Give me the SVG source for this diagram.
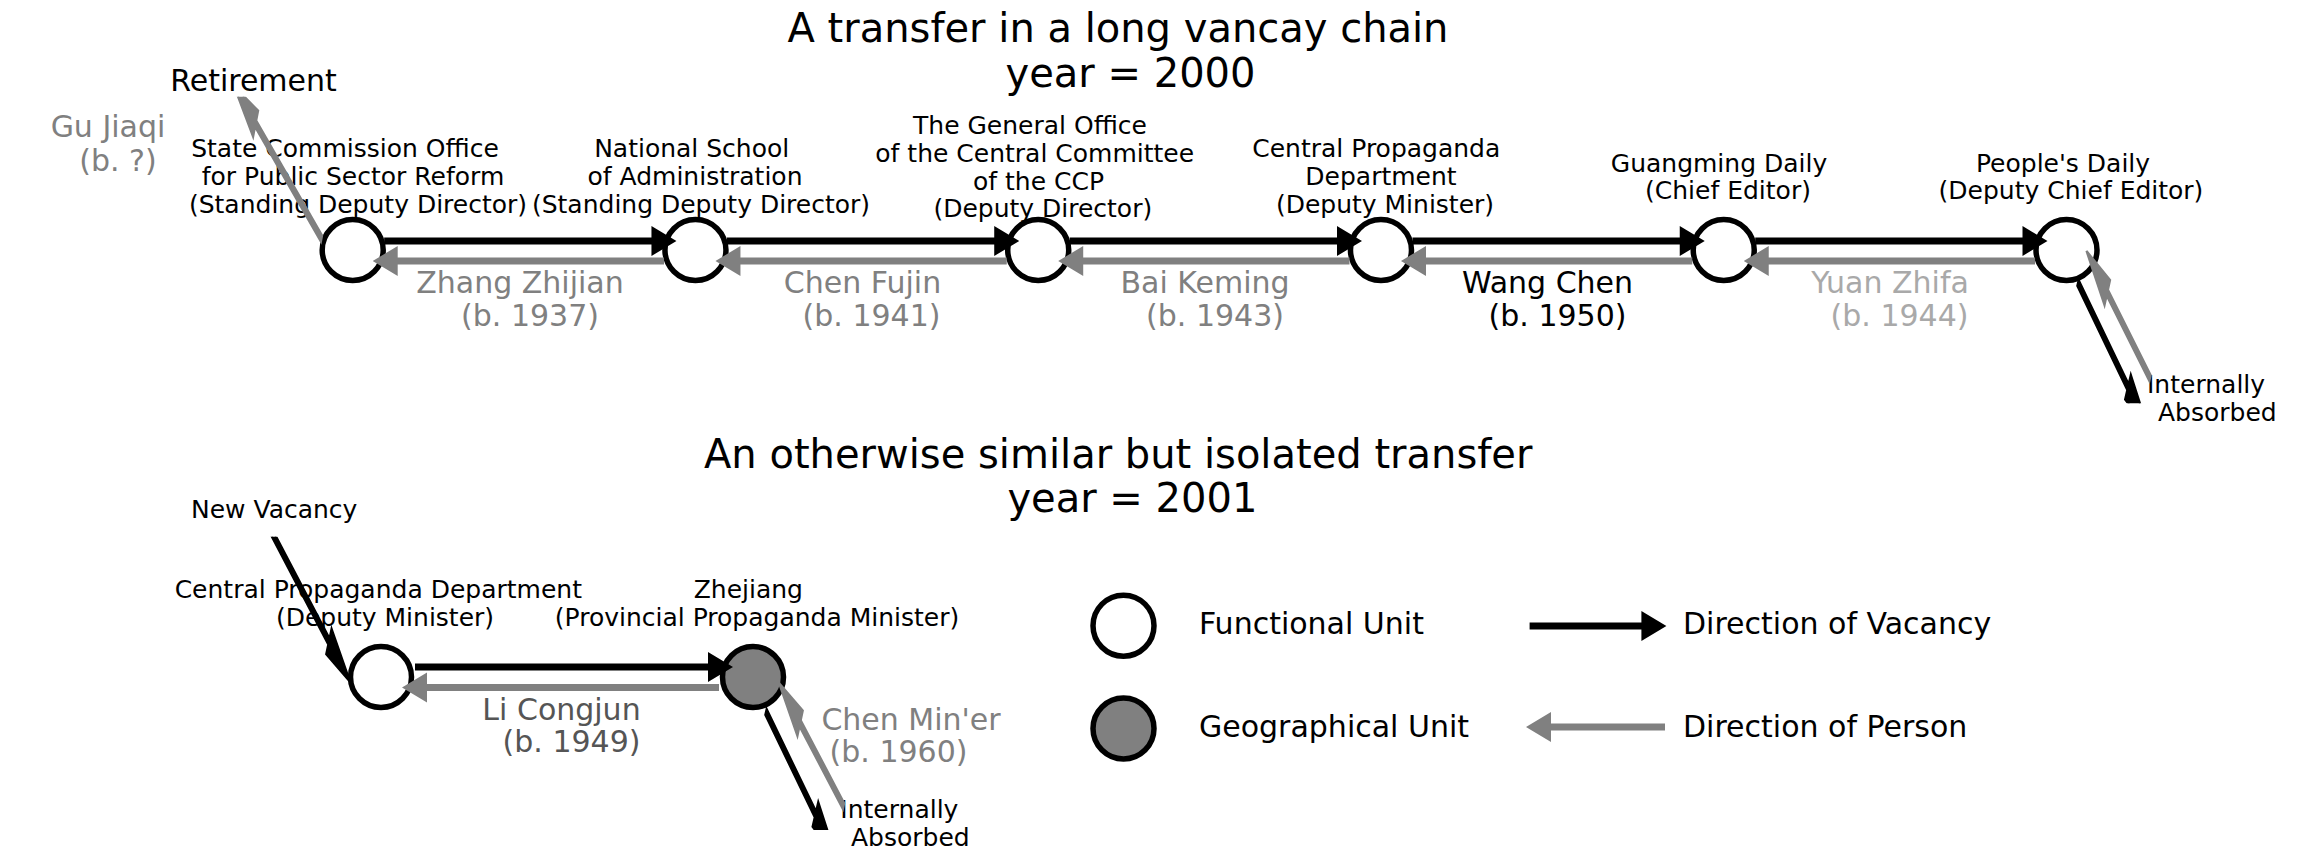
<svg xmlns="http://www.w3.org/2000/svg" width="2304" height="864" viewBox="0 0 2304 864">
<style>
text{font-family:"DejaVu Sans","Liberation Sans",sans-serif;}
.title{font-size:40px;fill:#000;}
.lab{font-size:25px;fill:#000;text-anchor:middle;}
.labs{font-size:25px;fill:#000;}
.per{font-size:30px;text-anchor:middle;}
.leg{font-size:30px;fill:#000;}
.gray{fill:#808080;}
.lgray{fill:#a9a9a9;}
.dgray{fill:#555555;}
.blk{fill:#000;}
.fu{fill:#fff;stroke:#000;stroke-width:5.5;}
.gu{fill:#808080;stroke:#000;stroke-width:5.5;}
.va{fill:#000;}
.pe{fill:#808080;}
.dva{fill:#000;stroke:#000;stroke-width:2.2;vector-effect:non-scaling-stroke;}
.dpe{fill:#808080;stroke:#808080;stroke-width:2.2;vector-effect:non-scaling-stroke;}
</style>
<defs>
<clipPath id="clipTop" clipPathUnits="userSpaceOnUse"><rect x="0" y="96.7" width="2304" height="306.6"/></clipPath>
<clipPath id="clipBot" clipPathUnits="userSpaceOnUse"><rect x="0" y="536.7" width="2304" height="293.3"/></clipPath>
<path id="hTop" d="M0,0 L-25,-15 L-25,-3.5 L-292.3,-3.5 L-292.3,3.5 L-25,3.5 L-25,15 Z"/>
<path id="hTopG" d="M0,0 L-25,-15 L-25,-3.5 L-291.3,-3.5 L-291.3,3.5 L-25,3.5 L-25,15 Z"/>
</defs>

<g id="titles">
<text class="title" x="787.5" y="42">A transfer in a long vancay chain</text>
<text class="title" x="1005.5" y="87">year = 2000</text>
<text class="title" x="704" y="468">An otherwise similar but isolated transfer</text>
<text class="title" x="1007.4" y="512">year = 2001</text>
</g>

<g id="node-scopsr">
<circle class="fu" cx="352.7" cy="250" r="30.5"/>
<text class="lab" x="345" y="157">State Commission Office</text>
<text class="lab" x="353" y="185">for Public Sector Reform</text>
<text class="lab" x="358" y="213">(Standing Deputy Director)</text>
</g>
<g id="node-nsa">
<circle class="fu" cx="695.46" cy="250" r="30.5"/>
<text class="lab" x="691.7" y="157">National School</text>
<text class="lab" x="695" y="185">of Administration</text>
<text class="lab" x="701" y="213">(Standing Deputy Director)</text>
</g>
<g id="node-goccp">
<circle class="fu" cx="1038.22" cy="250" r="30.5"/>
<text class="lab" x="1030" y="133.5">The General Office</text>
<text class="lab" x="1034.7" y="161.5">of the Central Committee</text>
<text class="lab" x="1038.5" y="189.5">of the CCP</text>
<text class="lab" x="1042.8" y="216.5">(Deputy Director)</text>
</g>
<g id="node-cpd">
<circle class="fu" cx="1380.98" cy="250" r="30.5"/>
<text class="lab" x="1376.3" y="157">Central Propaganda</text>
<text class="lab" x="1381" y="185">Department</text>
<text class="lab" x="1385" y="213">(Deputy Minister)</text>
</g>
<g id="node-gmd">
<circle class="fu" cx="1723.74" cy="250" r="30.5"/>
<text class="lab" x="1719" y="171.5">Guangming Daily</text>
<text class="lab" x="1728" y="199">(Chief Editor)</text>
</g>
<g id="node-pd">
<circle class="fu" cx="2066.5" cy="250" r="30.5"/>
<text class="lab" x="2063" y="171.5">People's Daily</text>
<text class="lab" x="2071" y="199">(Deputy Chief Editor)</text>
</g>
<g id="node-retirement">
<text class="leg" x="253.5" y="90.5" text-anchor="middle">Retirement</text>
</g>
<g id="node-absorbed-top">
<text class="labs" x="2147" y="393.3">Internally</text>
<text class="labs" x="2158" y="421">Absorbed</text>
</g>

<g id="node-cpd-2001">
<circle class="fu" cx="381" cy="677" r="30.5"/>
<text class="lab" x="378.3" y="598.3">Central Propaganda Department</text>
<text class="lab" x="385" y="626">(Deputy Minister)</text>
</g>
<g id="node-zhejiang">
<circle class="gu" cx="753" cy="677" r="30.5"/>
<text class="lab" x="748.3" y="598.3">Zhejiang</text>
<text class="lab" x="757" y="625.5">(Provincial Propaganda Minister)</text>
</g>
<g id="node-newvacancy">
<text class="labs" x="191" y="518.3">New Vacancy</text>
</g>
<g id="node-absorbed-bot">
<text class="labs" x="840.3" y="818.3">Internally</text>
<text class="labs" x="851" y="846">Absorbed</text>
</g>

<g id="connectors">
<g clip-path="url(#clipTop)">
<use href="#hTop" class="va" transform="translate(676.46,241)"/>
<use href="#hTop" class="va" transform="translate(1019.22,241)"/>
<use href="#hTop" class="va" transform="translate(1361.98,241)"/>
<use href="#hTop" class="va" transform="translate(1704.74,241)"/>
<use href="#hTop" class="va" transform="translate(2047.5,241)"/>
<use href="#hTopG" class="pe" transform="translate(372.7,261) rotate(180)"/>
<use href="#hTopG" class="pe" transform="translate(715.46,261) rotate(180)"/>
<use href="#hTopG" class="pe" transform="translate(1058.22,261) rotate(180)"/>
<use href="#hTopG" class="pe" transform="translate(1400.98,261) rotate(180)"/>
<use href="#hTopG" class="pe" transform="translate(1743.74,261) rotate(180)"/>
<path class="dpe" transform="scale(1,3) translate(234,28.667) rotate(-149.84)" d="M0,0 L-25,-5 L-25,-1.167 L-101.19,-1.167 L-101.19,1.167 L-25,1.167 L-25,5 Z"/>
<path class="dva" transform="scale(1,3) translate(2148.5,143.333) rotate(34.8)" d="M0,0 L-25,-5 L-25,-1.167 L-85.86,-1.167 L-85.86,1.167 L-25,1.167 L-25,5 Z"/>
<path class="dpe" transform="scale(1,3) translate(2086.5,83.667) rotate(-146.31)" d="M0,0 L-25,-5 L-25,-1.167 L-76.32,-1.167 L-76.32,1.167 L-25,1.167 L-25,5 Z"/>
</g>
<g clip-path="url(#clipBot)">
<path class="va" d="M733,667 L708,652 L708,663.5 L415,663.5 L415,670.5 L708,670.5 L708,682 Z"/>
<path class="pe" d="M402,687.5 L427,672.5 L427,684 L719,684 L719,691 L427,691 L427,702.5 Z"/>
<path class="dva" transform="scale(1,3) translate(350,227.233) rotate(32.46)" d="M0,0 L-25,-5 L-25,-1.167 L-104.17,-1.167 L-104.17,1.167 L-25,1.167 L-25,5 Z"/>
<path class="dva" transform="scale(1,3) translate(836,285.667) rotate(34.62)" d="M0,0 L-25,-5 L-25,-1.167 L-85.07,-1.167 L-85.07,1.167 L-25,1.167 L-25,5 Z"/>
<path class="dpe" transform="scale(1,3) translate(779,227.667) rotate(-147.56)" d="M0,0 L-25,-5 L-25,-1.167 L-76.43,-1.167 L-76.43,1.167 L-25,1.167 L-25,5 Z"/>
</g>
</g>

<g id="people">
<text class="per gray" x="108" y="137">Gu Jiaqi</text>
<text class="per gray" x="118" y="170.5">(b. ?)</text>
<text class="per gray" x="520" y="293">Zhang Zhijian</text>
<text class="per gray" x="530" y="325.5">(b. 1937)</text>
<text class="per gray" x="862.5" y="293">Chen Fujin</text>
<text class="per gray" x="871.5" y="325.5">(b. 1941)</text>
<text class="per gray" x="1205" y="293">Bai Keming</text>
<text class="per gray" x="1215" y="325.5">(b. 1943)</text>
<text class="per blk" x="1547.5" y="293">Wang Chen</text>
<text class="per blk" x="1557.5" y="325.5">(b. 1950)</text>
<text class="per lgray" x="1890" y="293">Yuan Zhifa</text>
<text class="per lgray" x="1899.5" y="325.5">(b. 1944)</text>
<text class="per dgray" x="561.5" y="719.5">Li Congjun</text>
<text class="per dgray" x="571.5" y="751.5">(b. 1949)</text>
<text class="per gray" x="911" y="730">Chen Min'er</text>
<text class="per gray" x="898.5" y="762">(b. 1960)</text>
</g>

<g id="legend">
<g id="legend-functional">
<circle class="fu" cx="1123.5" cy="625.7" r="30.5"/>
<text class="leg" x="1199" y="634">Functional Unit</text>
</g>
<g id="legend-geographical">
<circle class="gu" cx="1123.5" cy="728.5" r="30.5"/>
<text class="leg" x="1199" y="736.7">Geographical Unit</text>
</g>
<g id="legend-vacancy">
<path class="va" d="M1666.4,626 L1641.4,611 L1641.4,622.5 L1529.6,622.5 L1529.6,629.5 L1641.4,629.5 L1641.4,641 Z"/>
<text class="leg" x="1683" y="634">Direction of Vacancy</text>
</g>
<g id="legend-person">
<path class="pe" d="M1526,727 L1551,712 L1551,723.5 L1665,723.5 L1665,730.5 L1551,730.5 L1551,742 Z"/>
<text class="leg" x="1683" y="736.7">Direction of Person</text>
</g>
</g>
</svg>
